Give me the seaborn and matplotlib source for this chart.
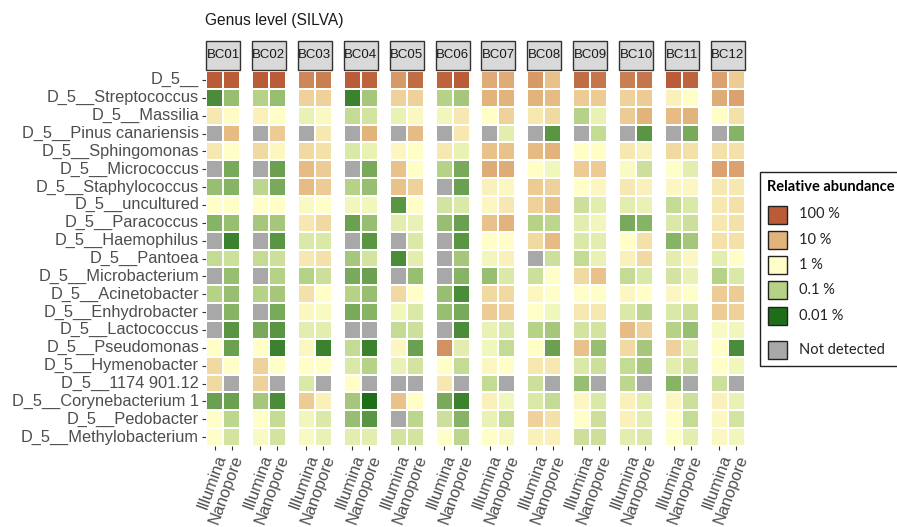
import numpy as np
import pandas as pd
import seaborn as sns
import matplotlib
matplotlib.use("Agg")
import matplotlib.pyplot as plt
from matplotlib.colors import LinearSegmentedColormap, ListedColormap, Normalize
from matplotlib.patches import Rectangle
from matplotlib.transforms import ScaledTranslation

# ---- data -------------------------------------------------------------
genera = [
    "D_5__", "D_5__Streptococcus", "D_5__Massilia", "D_5__Pinus canariensis",
    "D_5__Sphingomonas", "D_5__Micrococcus", "D_5__Staphylococcus",
    "D_5__uncultured", "D_5__Paracoccus", "D_5__Haemophilus", "D_5__Pantoea",
    "D_5__Microbacterium", "D_5__Acinetobacter", "D_5__Enhydrobacter",
    "D_5__Lactococcus", "D_5__Pseudomonas", "D_5__Hymenobacter",
    "D_5__1174 901.12", "D_5__Corynebacterium 1", "D_5__Pedobacter",
    "D_5__Methylobacterium",
]
barcodes = [f"BC{i:02d}" for i in range(1, 13)]
platforms = ["Illumina", "Nanopore"]

nan = np.nan
# log10 of relative abundance (%), one list per barcode, genera in order above;
# nan = genus not detected
illumina_log10 = [
    [2.0, -1.7, 0.3, nan, 0.3, nan, -1.2, 0.0, -1.3, nan, -0.8, nan, -1.0, nan, nan, 0.0, 0.5, 0.5, -1.5, 0.0, 0.0],
    [2.0, -1.0, 0.2, nan, 0.5, nan, -0.9, 0.0, -1.1, nan, -0.8, nan, -1.0, nan, -1.4, 0.0, 0.6, 0.6, -1.1, 0.0, -0.1],
    [1.5, 0.6, -0.3, nan, 0.5, 0.9, 0.9, -0.1, 0.3, -0.5, 0.3, -1.0, 0.4, 0.1, -0.4, 0.1, 0.0, -0.5, 0.7, -0.2, -0.1],
    [2.0, -1.8, -0.8, nan, -0.5, nan, -1.0, -0.2, -1.5, nan, -1.1, -1.4, -1.0, -1.4, nan, -0.8, -0.5, 0.0, -1.1, -1.2, -0.4],
    [1.3, 0.6, -0.3, nan, 0.1, 0.8, 0.8, -1.6, -0.4, nan, -1.7, nan, 0.5, -0.2, -0.8, 0.1, -0.3, nan, 0.8, nan, -0.6],
    [1.9, -1.0, -0.2, nan, 0.3, -1.0, nan, -0.6, -1.2, nan, nan, nan, -1.2, -1.2, nan, 1.4, 0.0, 0.3, -1.4, -0.7, 0.0],
    [1.1, 1.0, 0.0, nan, 0.8, 1.1, 0.2, 0.1, 0.8, 0.0, -0.2, -1.2, 0.5, 0.7, -0.3, -0.2, 0.1, -0.8, 0.2, -0.3, 0.0],
    [1.3, 1.0, 0.3, nan, 0.9, 0.0, 0.7, 0.6, -1.0, 0.5, nan, -0.7, 0.1, 0.0, -1.0, 0.0, 0.3, -0.7, -0.5, 0.6, 0.2],
    [1.8, 0.7, -1.0, nan, 0.0, 0.7, 0.0, -0.7, -0.4, -0.5, -0.8, 0.5, 0.0, 0.3, -0.6, 0.8, -0.5, -1.2, 0.1, 0.0, -0.7],
    [1.6, 0.6, 0.7, nan, 0.3, -0.1, 0.3, -0.4, -1.4, 0.0, 0.2, -0.8, 0.1, -0.5, 0.9, 0.5, -0.8, -0.9, 0.2, 0.2, -0.4],
    [2.0, 0.2, 0.9, nan, 0.5, 0.0, 0.1, -0.8, -0.5, -1.3, -0.4, -0.6, 0.1, -0.5, -1.0, 0.6, -0.4, -1.3, 0.1, 0.0, 0.0],
    [1.2, 1.1, 0.0, nan, 0.4, 1.2, 0.3, 0.3, 0.3, 0.4, -0.4, -1.0, 0.7, 0.7, -0.1, 0.0, 0.0, -0.7, 0.2, 0.1, 0.1],
]
nanopore_log10 = [
    [2.0, -1.2, 0.05, 0.9, 0.0, -1.4, -1.3, 0.0, -1.2, -1.8, -0.7, -1.2, -1.2, -1.3, -1.6, -1.5, 0.0, nan, -1.5, -0.9, -0.6],
    [2.0, -1.2, 0.0, 0.7, 0.1, -1.5, -1.4, 0.0, -1.1, -1.6, -0.7, -1.0, -1.1, -1.4, -1.6, -1.8, 0.0, nan, -1.7, -0.8, -0.6],
    [1.6, 0.6, -0.1, 0.3, 0.4, 0.7, 0.7, 0.0, 0.5, -0.5, 0.4, -0.7, 0.0, -0.1, -0.4, -1.8, 0.0, nan, 0.2, -0.5, -0.3],
    [1.9, -1.1, -0.6, 1.0, -0.3, -1.4, -1.2, -0.2, -1.2, -1.6, -0.6, -1.5, -1.2, -1.3, nan, -1.8, -1.0, nan, -2.2, -1.6, -0.4],
    [1.8, 0.6, 0.1, 0.9, 0.0, 0.0, 0.6, 0.0, -0.3, -0.5, -0.4, -1.2, 0.0, -0.5, -0.7, -1.5, -0.6, nan, 0.0, -0.9, -0.6],
    [2.0, -1.1, 0.3, 0.3, -0.3, -1.4, -1.5, -0.5, -1.5, -1.6, -1.1, -1.3, -1.7, -1.4, -1.7, -0.4, -0.8, nan, -1.8, -1.3, -0.9],
    [1.1, 1.0, 0.6, -0.4, 0.8, 1.1, 0.1, 0.3, 1.0, 0.0, 0.2, -0.5, 0.5, 0.6, -0.5, -0.8, 0.0, nan, -0.2, -0.8, -0.1],
    [0.8, 0.9, 0.5, -1.6, 1.0, -0.2, 0.6, 0.8, -0.9, 0.9, -0.7, 0.0, 0.0, -0.2, -1.1, -1.5, 0.3, nan, -0.8, 0.4, 0.2],
    [1.7, 0.7, -0.3, -0.8, 0.0, 0.7, 0.1, -0.4, -0.2, -0.4, -0.3, 0.8, 0.0, 0.3, -0.6, -1.2, -0.7, nan, -0.5, -0.7, -0.7],
    [1.7, 0.7, 1.0, -1.6, 0.2, -0.7, 0.2, -0.3, -1.3, 0.4, 0.5, -0.5, 0.0, -0.9, 0.6, -1.1, -1.1, nan, -0.4, -0.4, -0.5],
    [1.9, 0.0, 1.0, -1.4, 0.4, -0.4, 0.1, -0.5, -0.7, -1.1, 0.1, -0.3, 0.0, -0.7, -1.2, -0.4, -0.7, nan, -0.7, -0.8, -0.4],
    [0.7, 1.2, 0.4, -1.3, 0.4, 1.2, 0.3, 0.4, 0.4, 0.4, 0.0, -0.5, 0.7, 0.6, -0.2, -1.7, -0.2, nan, -0.3, -0.6, -0.2],
]

legend_levels = [2, 1, 0, -1, -2]
legend_labels = ["100 %", "10 %", "1 %", "0.1 %", "0.01 %"]
not_detected_label = "Not detected"

# ---- style ------------------------------------------------------------
sns.set_theme(style="white")
plt.rcParams["font.family"] = ["Liberation Sans", "DejaVu Sans"]

cmap = LinearSegmentedColormap.from_list(
    "abundance",
    [(0.00, "#1E6E19"), (0.25, "#B6D287"), (0.50, "#FFFFC8"),
     (0.75, "#E4B47D"), (1.00, "#B95C37")],
)
norm = Normalize(vmin=-2, vmax=2)
grey_nd = "#A8A8A8"
text_grey = "#4D4D4D"

W, H = 897, 527
fig = plt.figure(figsize=(W / 100, H / 100), dpi=100)


def fx(px):
    return px / W


def fy(py):
    return 1 - py / H


left0, pitch, pw = 206.0, 45.9, 34.0
top, bottom = 71.0, 446.0
label_shift = ScaledTranslation(5 / 100, 0, fig.dpi_scale_trans)

for i, bc in enumerate(barcodes):
    x0 = left0 + i * pitch
    ax = fig.add_axes([fx(x0), fy(bottom), pw / W, (bottom - top) / H])
    df = pd.DataFrame({platforms[0]: illumina_log10[i],
                       platforms[1]: nanopore_log10[i]}, index=genera)
    nd = df.isna()
    sns.heatmap(df, ax=ax, cmap=cmap, vmin=-2, vmax=2, cbar=False, mask=nd,
                linewidths=1.2, linecolor="white",
                xticklabels=True, yticklabels=True)
    sns.heatmap(nd.astype(float), ax=ax, cmap=ListedColormap([grey_nd]),
                cbar=False, mask=~nd, linewidths=1.2, linecolor="white",
                xticklabels=True, yticklabels=True)
    ax.set_xlabel("")
    ax.set_ylabel("")
    ax.set_xticklabels(platforms, rotation=70, ha="right", va="top",
                       rotation_mode="anchor", fontsize=11.8, color=text_grey)
    for t in ax.get_xticklabels():
        t.set_transform(t.get_transform() + label_shift)
    ax.tick_params(axis="x", bottom=True, length=3, width=0.8,
                   color="#333333", pad=2)
    if i == 0:
        ax.set_yticklabels(genera, rotation=0, fontsize=11.8, color=text_grey)
        ax.tick_params(axis="y", left=True, length=3, width=0.8,
                       color="#333333", pad=2)
    else:
        ax.set_yticklabels([])
        ax.tick_params(axis="y", left=False)
    for s in ax.spines.values():
        s.set_visible(False)

    # facet strip
    fig.patches.append(Rectangle((fx(x0), fy(70)), pw / W, 29 / H,
                                 transform=fig.transFigure,
                                 facecolor="#D9D9D9", edgecolor="#333333",
                                 linewidth=1.0))
    fig.text(fx(x0 + pw / 2), fy(55.5), bc, ha="center", va="center",
             fontsize=9.5, color="#1A1A1A")

fig.text(fx(205), fy(20), "Genus level (SILVA)", ha="left", va="center",
         fontsize=11.2, color="#1A1A1A")

# ---- legend -----------------------------------------------------------
fig.patches.append(Rectangle((fx(760), fy(366)), (W - 759) / W, 194 / H,
                             transform=fig.transFigure, facecolor="white",
                             edgecolor="#222222", linewidth=1.0))
fig.text(fx(767), fy(187), "Relative abundance", ha="left", va="center",
         fontsize=10.5, fontweight="bold", color="black",
         family=["Lato", "DejaVu Sans"])
centers = [214.5, 240, 265, 290, 316]
for v, lab, cy in zip(legend_levels, legend_labels, centers):
    fig.patches.append(Rectangle((fx(768), fy(cy + 9)), 19 / W, 18 / H,
                                 transform=fig.transFigure,
                                 facecolor=cmap(norm(v)), edgecolor="#222222",
                                 linewidth=1.0))
    fig.text(fx(799), fy(cy), lab, ha="left", va="center", fontsize=10.5,
             color="#222222", family=["Lato", "DejaVu Sans"])
fig.patches.append(Rectangle((fx(768), fy(359)), 19 / W, 18 / H,
                             transform=fig.transFigure, facecolor=grey_nd,
                             edgecolor="#222222", linewidth=1.0))
fig.text(fx(799), fy(350), not_detected_label, ha="left", va="center",
         fontsize=10.5, color="#222222", family=["Lato", "DejaVu Sans"])

fig.savefig("out.png", dpi=100, facecolor="white")
